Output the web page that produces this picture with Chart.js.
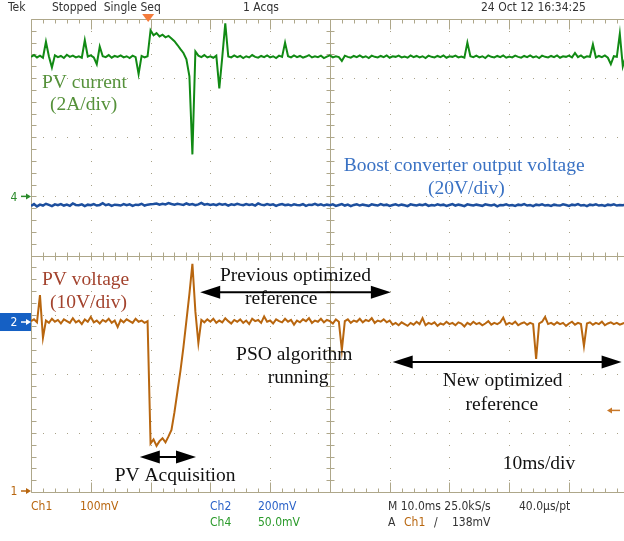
<!DOCTYPE html>
<html>
<head>
<meta charset="utf-8">
<script src="https://cdn.jsdelivr.net/npm/chart.js@4.4.1/dist/chart.umd.min.js"></script>
<style>
  html, body { margin: 0; padding: 0; background: #fff; overflow: hidden; }
  canvas { display: block; }
</style>
</head>
<body>
<canvas id="scope" width="624" height="541"></canvas>
<script>
// sample times, ms (10 ms/div)
const timeMs = [
  0, 0.5, 1, 1.5, 2, 2.5, 3, 3.5, 4, 4.5,
  5, 5.5, 6, 6.5, 7, 7.5, 8, 8.5, 9, 9.5,
  10, 10.5, 11, 11.5, 12, 12.5, 13, 13.5, 14, 14.5,
  15, 15.5, 16, 16.5, 17, 17.5, 18, 18.5, 19, 19.5,
  20, 20.5, 21, 21.5, 22, 22.5, 23, 23.5, 24, 24.5,
  25, 25.5, 26, 26.5, 27, 27.5, 28, 28.5, 29, 29.5,
  30, 30.5, 31, 31.5, 32, 32.5, 33, 33.5, 34, 34.5,
  35, 35.5, 36, 36.5, 37, 37.5, 38, 38.5, 39, 39.5,
  40, 40.5, 41, 41.5, 42, 42.5, 43, 43.5, 44, 44.5,
  45, 45.5, 46, 46.5, 47, 47.5, 48, 48.5, 49, 49.5,
  50, 50.5, 51, 51.5, 52, 52.5, 53, 53.5, 54, 54.5,
  55, 55.5, 56, 56.5, 57, 57.5, 58, 58.5, 59, 59.5,
  60, 60.5, 61, 61.5, 62, 62.5, 63, 63.5, 64, 64.5,
  65, 65.5, 66, 66.5, 67, 67.5, 68, 68.5, 69, 69.5,
  70, 70.5, 71, 71.5, 72, 72.5, 73, 73.5, 74, 74.5,
  75, 75.5, 76, 76.5, 77, 77.5, 78, 78.5, 79, 79.5,
  80, 80.5, 81, 81.5, 82, 82.5, 83, 83.5, 84, 84.5,
  85, 85.5, 86, 86.5, 87, 87.5, 88, 88.5, 89, 89.5,
  90, 90.5, 91, 91.5, 92, 92.5, 93, 93.5, 94, 94.5,
  95, 95.5, 96, 96.5, 97, 97.5, 98, 98.5, 99, 99.5
];

// Ch1, PV voltage in V (10V/div)
const pvVoltage = [
  28.9, 29.2, 28.7, 33.3, 26.1, 29.0, 28.6, 29.3, 28.8, 29.1,
  28.5, 29.2, 28.9, 28.6, 29.4, 28.7, 29.0, 28.4, 29.2, 28.8,
  29.6, 28.7, 29.0, 28.5, 29.1, 28.8, 29.3, 28.6, 29.0, 27.9,
  29.1, 28.7, 29.2, 28.9, 28.6, 29.3, 28.8, 29.0, 28.6, 28.9,
  8.2, 8.9, 7.8, 8.6, 9.1, 8.4, 9.4, 10.5, 13.5, 17.0,
  20.5, 24.5, 29.0, 33.5, 38.6, 30.5, 25.2, 29.1, 28.7, 29.2,
  28.8, 29.3, 28.6, 29.0, 28.7, 29.4, 28.9, 28.5, 29.1, 28.8,
  29.2, 28.6, 29.0, 28.4, 29.3, 28.9, 29.1, 28.6, 29.7, 28.8,
  29.0, 28.5, 29.2, 28.9, 28.7, 29.3, 28.8, 29.1, 28.3, 29.0,
  28.7, 29.2, 28.9, 29.4, 28.6, 29.0, 28.8, 29.3, 28.7, 29.1,
  28.9, 28.5, 29.2, 28.8, 24.0, 28.9, 29.2, 28.6, 29.0, 28.8,
  29.3, 28.7, 29.1, 28.9, 29.4, 28.6, 29.0, 28.8, 29.2, 28.7,
  29.0, 28.3, 28.6, 28.2, 28.7, 28.4, 28.1, 28.6, 28.3, 28.8,
  28.4, 29.4, 28.2, 28.6, 28.4, 28.7, 28.1, 28.5, 28.3, 28.8,
  28.4, 28.6, 28.2, 28.7, 28.5, 28.0, 28.6, 28.3, 28.8, 28.4,
  28.6, 28.2, 28.5, 28.9, 28.3, 28.6, 28.4, 28.7, 29.5, 28.3,
  28.6, 28.4, 28.8, 28.2, 28.5, 28.7, 28.3, 28.6, 28.4, 22.5,
  28.5, 28.8, 29.6, 28.4, 28.6, 28.3, 28.7, 28.4, 28.6, 28.1,
  28.5, 28.8, 28.3, 28.6, 28.4, 24.7, 28.5, 28.7, 28.3, 28.6,
  28.4, 28.8, 28.2, 28.5, 28.7, 28.4, 28.6, 28.3, 28.5, 28.7
];

// Ch2, boost converter output voltage in V (20V/div)
const boostVoltage = [
  39.3, 39.9, 39.1, 39.7, 39.4, 40.0, 39.6, 39.2, 39.8, 39.5,
  39.9, 39.4, 39.7, 39.3, 40.1, 39.6, 39.5, 39.8, 39.2, 39.7,
  39.5, 39.9, 39.4, 39.6, 40.2, 39.5, 39.8, 39.3, 39.7, 39.6,
  39.4, 39.9, 39.5, 39.8, 39.3, 39.7, 39.6, 40.0, 39.4, 39.7,
  39.8, 39.9, 40.1, 39.7, 40.0, 39.8, 40.2, 39.9, 39.7, 40.0,
  39.8, 39.6, 40.1, 39.7, 39.9, 39.5, 39.8, 40.3, 39.7, 39.9,
  39.6, 39.8, 39.5, 40.0, 39.7, 39.9, 39.4, 39.8, 39.6, 40.0,
  39.7, 39.5, 39.9, 39.6, 39.8, 39.4, 40.1, 39.7, 39.5, 39.9,
  39.6, 39.8, 39.3, 39.7, 39.9, 39.5, 39.7, 39.4, 39.8, 39.6,
  39.5, 39.9, 39.3, 39.7, 39.6, 40.0, 39.5, 39.8, 39.4, 39.7,
  39.5, 39.8, 39.3, 39.6, 39.9, 39.4, 39.7, 39.2, 39.6, 39.8,
  39.4, 39.7, 39.5, 39.3, 39.8, 39.6, 39.4, 39.9, 39.5, 39.7,
  39.3, 39.6, 39.8, 39.4, 39.7, 39.5, 39.2, 39.8, 39.6, 39.4,
  39.7, 39.5, 39.9, 39.3, 39.6, 39.4, 39.8, 39.5, 39.7, 39.3,
  39.6, 39.9, 39.4, 39.7, 39.5, 39.2, 39.8, 39.6, 39.4, 39.7,
  39.5, 39.3, 39.8, 39.6, 39.4, 39.7, 39.1, 39.6, 39.5, 39.8,
  39.4, 39.6, 39.3, 39.7, 39.5, 39.9, 39.4, 39.6, 39.2, 39.7,
  39.5, 39.8, 39.4, 39.6, 39.3, 39.7, 39.5, 39.4, 39.8, 39.6,
  39.3, 39.7, 39.5, 39.9, 39.4, 39.6, 39.2, 39.7, 39.5, 39.8,
  39.4, 39.6, 39.3, 39.7, 39.5, 39.8, 39.4, 39.6, 39.5, 39.7
];

// Ch4, PV current in A (2A/div)
const pvCurrent = [
  4.72, 4.78, 4.70, 4.76, 4.69, 5.23, 4.73, 4.36, 4.77, 4.71,
  4.75, 4.68, 4.79, 4.72, 4.76, 4.70, 4.74, 4.69, 5.28, 4.73,
  4.77, 4.70, 4.47, 5.07, 4.74, 4.71, 4.78, 4.69, 4.75, 4.72,
  4.77, 4.70, 4.74, 4.68, 4.76, 4.71, 4.14, 4.75, 4.70, 4.74,
  5.62, 5.45, 5.52, 5.41, 5.47, 5.38, 5.43, 5.34, 5.25, 5.12,
  4.98, 4.85, 4.64, 4.06, 1.42, 4.90, 4.76, 4.71, 4.78, 4.70,
  4.74, 4.69, 4.76, 3.65, 4.72, 5.85, 4.73, 4.70, 4.77, 4.71,
  4.75, 4.68, 4.74, 4.70, 4.78, 4.72, 4.69, 4.75, 4.71, 4.77,
  4.70, 4.74, 4.68, 4.76, 4.72, 5.20, 4.74, 4.70, 4.77, 4.71,
  4.75, 4.69, 4.73, 4.78, 4.70, 4.74, 4.71, 4.76, 4.68, 4.73,
  4.77, 4.70, 4.74, 4.71, 4.58, 4.76, 4.72, 4.69, 4.75, 4.71,
  4.77, 4.70, 4.74, 4.68, 4.76, 4.72, 4.70, 4.75, 4.71, 4.77,
  4.69, 4.74, 4.72, 4.76, 4.70, 4.73, 4.69, 4.77, 4.71, 4.75,
  4.70, 4.74, 4.68, 4.76, 4.72, 4.70, 4.75, 4.71, 4.77, 4.69,
  4.74, 4.72, 4.76, 4.70, 4.73, 4.69, 5.20, 4.74, 4.71, 4.76,
  4.70, 4.74, 4.68, 4.77, 4.72, 4.70, 4.75, 4.71, 4.77, 4.69,
  4.73, 4.70, 4.76, 4.72, 4.69, 4.75, 4.71, 4.77, 4.70, 4.74,
  4.68, 4.76, 4.72, 4.70, 4.75, 4.71, 4.77, 4.69, 4.74, 4.72,
  4.76, 4.70, 4.85, 4.71, 4.77, 4.69, 4.74, 4.72, 5.14, 4.70,
  4.75, 4.71, 4.77, 4.69, 4.47, 4.74, 4.72, 5.50, 4.40, 4.74
];

const triggerTimeMs = 19.6;
const triggerLevelV = 13.8;

const GRID = '#aea78a';
const DOTS = '#a8a186';
const ORANGE = '#b8660f';
const BLUE = '#1d4f9e';
const GREEN = '#118a14';

// text notes, placed in (ms, div) coordinates
const notes = [
  { text: 'PV current', t: 1.84, d: 2.92, color: '#55913a' },
  { text: '(2A/div)', t: 3.18, d: 2.54, color: '#55913a' },
  { text: 'Boost converter output voltage', t: 52.3, d: 1.51, color: '#3a72c4' },
  { text: '(20V/div)', t: 66.4, d: 1.13, color: '#3a72c4' },
  { text: 'PV voltage', t: 1.84, d: -0.41, color: '#a3432e' },
  { text: '(10V/div)', t: 3.18, d: -0.80, color: '#a3432e' },
  { text: 'Previous optimized', t: 31.6, d: -0.35, color: '#111' },
  { text: 'reference', t: 35.8, d: -0.74, color: '#111' },
  { text: 'PSO algorithm', t: 34.3, d: -1.68, color: '#111' },
  { text: 'running', t: 39.6, d: -2.07, color: '#111' },
  { text: 'New optimized', t: 68.9, d: -2.12, color: '#111' },
  { text: 'reference', t: 72.7, d: -2.53, color: '#111' },
  { text: 'PV Acquisition', t: 14.0, d: -3.73, color: '#111' },
  { text: '10ms/div', t: 78.9, d: -3.53, color: '#111' }
];

const spans = [
  { from: 28.3, to: 60.2, d: -0.62 },
  { from: 60.5, to: 98.8, d: -1.80 },
  { from: 18.2, to: 27.6, d: -3.41 }
];

const points = (values) => timeMs.map((t, i) => ({ x: t, y: values[i] }));

const graticule = {
  id: 'graticule',
  beforeDatasetsDraw(chart) {
    const { ctx, chartArea: a, scales: { x, div } } = chart;
    const px = (t) => Math.round(x.getPixelForValue(t));
    const py = (d) => Math.round(div.getPixelForValue(d));
    ctx.save();

    ctx.fillStyle = DOTS;
    for (let t = 10; t <= 90; t += 10) {
      if (t === 50) continue;
      for (let k = 0; k <= 40; k++) ctx.fillRect(px(t), py(-4 + k * 0.2), 1, 1);
    }
    for (let d = -3; d <= 3; d++) {
      if (d === 0) continue;
      for (let k = 0; k <= 50; k++) ctx.fillRect(px(k * 2), py(d), 1, 1);
    }

    ctx.strokeStyle = GRID;
    ctx.lineWidth = 1;
    const line = (x1, y1, x2, y2) => {
      ctx.beginPath();
      ctx.moveTo(x1, y1);
      ctx.lineTo(x2, y2);
      ctx.stroke();
    };
    const top = py(4) + 0.5, bottom = py(-4) + 0.5, left = px(0) + 0.5;
    const cx = px(50) + 0.5, cy = py(0) + 0.5;
    line(left, top, a.right, top);
    line(left, bottom, a.right, bottom);
    line(left, top, left, bottom);
    line(cx, top, cx, bottom);
    line(left, cy, a.right, cy);

    for (let k = 0; k <= 50; k++) {
      const xx = px(k * 2) + 0.5;
      const len = k % 5 === 0 ? 10 : 4;
      line(xx, top, xx, top + len);
      line(xx, bottom, xx, bottom - len);
      line(xx, cy - 4, xx, cy + 4);
    }
    for (let k = 0; k <= 40; k++) {
      const yy = py(-4 + k * 0.2) + 0.5;
      line(left, yy, left + 5, yy);
      line(cx - 4, yy, cx + 4, yy);
    }
    ctx.restore();
  }
};

const markers = {
  id: 'markers',
  afterDatasetsDraw(chart) {
    const { ctx, scales: { x, div, ch1, ch2, ch4 } } = chart;
    ctx.save();

    ctx.font = '19.5px "Liberation Serif", "Times New Roman", serif';
    ctx.textBaseline = 'middle';
    ctx.textAlign = 'left';
    notes.forEach((n) => {
      ctx.fillStyle = n.color;
      ctx.fillText(n.text, x.getPixelForValue(n.t), div.getPixelForValue(n.d));
    });

    ctx.fillStyle = '#000';
    ctx.strokeStyle = '#000';
    ctx.lineWidth = 2;
    spans.forEach((s) => {
      const x1 = x.getPixelForValue(s.from), x2 = x.getPixelForValue(s.to);
      const y = div.getPixelForValue(s.d);
      ctx.beginPath();
      ctx.moveTo(x1 + 10, y);
      ctx.lineTo(x2 - 10, y);
      ctx.stroke();
      [[x1, 1], [x2, -1]].forEach(([tip, dir]) => {
        ctx.beginPath();
        ctx.moveTo(tip, y);
        ctx.lineTo(tip + dir * 20, y - 6.5);
        ctx.lineTo(tip + dir * 20, y + 6.5);
        ctx.closePath();
        ctx.fill();
      });
    });

    // trigger position
    const tx = x.getPixelForValue(triggerTimeMs);
    const ty = div.getPixelForValue(4);
    ctx.fillStyle = '#f47c3c';
    ctx.beginPath();
    ctx.moveTo(tx - 6, ty - 5);
    ctx.lineTo(tx + 6, ty - 5);
    ctx.lineTo(tx, ty + 3);
    ctx.closePath();
    ctx.fill();

    // trigger level
    const ly = ch1.getPixelForValue(triggerLevelV);
    ctx.strokeStyle = '#c8782a';
    ctx.fillStyle = '#c8782a';
    ctx.lineWidth = 1.5;
    ctx.beginPath();
    ctx.moveTo(609, ly);
    ctx.lineTo(620, ly);
    ctx.stroke();
    ctx.beginPath();
    ctx.moveTo(607, ly);
    ctx.lineTo(612, ly - 3);
    ctx.lineTo(612, ly + 3);
    ctx.closePath();
    ctx.fill();

    // channel ground markers
    const ground = (y, label, color, boxed) => {
      if (boxed) {
        ctx.fillStyle = '#1560c4';
        ctx.fillRect(0, y - 9, 31, 18);
        color = '#fff';
      }
      ctx.fillStyle = color;
      ctx.strokeStyle = color;
      ctx.font = '12px "DejaVu Sans Condensed", "DejaVu Sans", sans-serif';
      ctx.textAlign = 'center';
      ctx.fillText(label, 14, y + 1);
      ctx.lineWidth = 1.5;
      ctx.beginPath();
      ctx.moveTo(21, y);
      ctx.lineTo(27, y);
      ctx.stroke();
      ctx.beginPath();
      ctx.moveTo(31, y);
      ctx.lineTo(26, y - 3);
      ctx.lineTo(26, y + 3);
      ctx.closePath();
      ctx.fill();
    };
    ground(ch4.getPixelForValue(0), '4', '#2a8a2a', false);
    ground(ch2.getPixelForValue(0), '2', '#fff', true);
    ground(ch1.getPixelForValue(0) - 1, '1', '#b8660f', false);

    ctx.restore();
  }
};

const readout = {
  id: 'readout',
  afterDraw(chart) {
    const { ctx } = chart;
    ctx.save();
    ctx.font = '12px "DejaVu Sans Condensed", "DejaVu Sans", sans-serif';
    ctx.textBaseline = 'middle';
    ctx.textAlign = 'left';
    const put = (s, x, y, c) => { ctx.fillStyle = c; ctx.fillText(s, x, y); };
    put('Tek', 8, 8, '#333');
    put('Stopped  Single Seq', 52, 8, '#333');
    put('1 Acqs', 243, 8, '#333');
    put('24 Oct 12 16:34:25', 481, 8, '#333');

    put('Ch1', 31, 507, '#b8660f');
    put('100mV', 80, 507, '#b8660f');
    put('Ch2', 210, 507, '#2a62c8');
    put('200mV', 258, 507, '#2a62c8');
    put('Ch4', 210, 523, '#2a9a2a');
    put('50.0mV', 258, 523, '#2a9a2a');
    put('M 10.0ms 25.0kS/s', 388, 507, '#333');
    put('40.0\u00b5s/pt', 519, 507, '#333');
    put('A', 388, 523, '#333');
    put('Ch1', 404, 523, '#b8660f');
    put('/', 434, 523, '#333');
    put('138mV', 452, 523, '#333');
    ctx.restore();
  }
};

new Chart(document.getElementById('scope'), {
  type: 'line',
  data: {
    datasets: [
      { data: points(boostVoltage), yAxisID: 'ch2', borderColor: BLUE, borderWidth: 2.5 },
      { data: points(pvCurrent), yAxisID: 'ch4', borderColor: GREEN, borderWidth: 2 },
      { data: points(pvVoltage), yAxisID: 'ch1', borderColor: ORANGE, borderWidth: 2 }
    ]
  },
  options: {
    responsive: false,
    animation: false,
    devicePixelRatio: 1,
    layout: { padding: { left: 31, top: 19, right: 0, bottom: 49 } },
    elements: { point: { radius: 0 }, line: { tension: 0 } },
    scales: {
      x: { type: 'linear', axis: 'x', min: 0, max: 99.2, display: false },
      div: { type: 'linear', axis: 'y', min: -4, max: 4, display: false },
      ch1: { type: 'linear', axis: 'y', min: 0, max: 80, display: false },
      ch2: { type: 'linear', axis: 'y', min: -57.5, max: 102.5, display: false },
      ch4: { type: 'linear', axis: 'y', min: -10, max: 6, display: false }
    },
    plugins: { legend: { display: false }, tooltip: { enabled: false } }
  },
  plugins: [graticule, markers, readout]
});
</script>
</body>
</html>
